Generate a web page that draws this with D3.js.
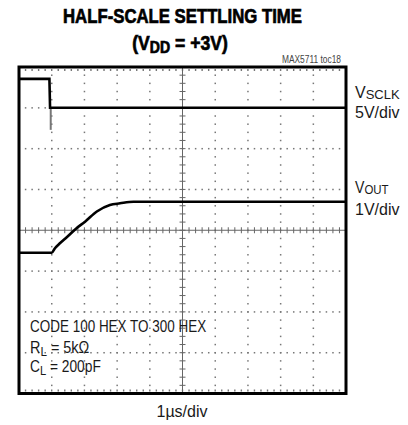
<!DOCTYPE html>
<html>
<head>
<meta charset="utf-8">
<script src="https://cdn.jsdelivr.net/npm/d3@7"></script>
<style>
  body { margin: 0; background: #fff; }
  svg { display: block; }
  text { font-family: "Liberation Sans", Arial, sans-serif; fill: #1a1a1a; }
</style>
</head>
<body>
<svg width="408" height="425"></svg>
<script>
// scope traces, time in us, level in divisions from screen centre
const sclkTime  = [0, 0.93, 0.95, 10];
const sclkLevel = [3.71, 3.71, 3.0, 3.0];
const glitchTime  = [0.97, 0.97];
const glitchLevel = [3.0, 2.46];

const voutTime  = [0, 1.0, 1.10, 1.25, 1.46, 1.76, 2.02, 2.38, 2.78, 3.09, 3.50, 10];
const voutLevel = [-0.55, -0.55, -0.44, -0.32, -0.17, 0.05, 0.21, 0.46, 0.62, 0.66, 0.70, 0.70];

const xDivs = d3.range(0, 11);   // 10 horizontal divisions
const yDivs = d3.range(-4, 5);   // 8 vertical divisions

let svg = d3.select('svg');
let x = d3.scaleLinear().domain([0, 10]).range([19, 346]);
let y = d3.scaleLinear().domain([-4, 4]).range([393.5, 67]);

let grid = svg.append('g').attr('fill', '#777');
let minor = d3.range(-4, 4.001, 0.2);
let minorX = d3.range(0, 10.001, 0.2);

// dotted vertical grid lines
xDivs.filter(d => d > 0 && d < 10 && d !== 5).forEach(d => {
  grid.selectAll(null).data(minor.slice(1, -1)).enter().append('rect')
    .attr('x', x(d) - 0.7).attr('y', v => y(v) - 0.7).attr('width', 1.5).attr('height', 1.5);
});
// dotted horizontal grid lines
yDivs.filter(d => d > -4 && d < 4 && d !== 0).forEach(d => {
  grid.selectAll(null).data(minorX.slice(1, -1)).enter().append('rect')
    .attr('x', v => x(v) - 0.7).attr('y', y(d) - 0.7).attr('width', 1.5).attr('height', 1.5);
});
// edge ticks
grid.selectAll(null).data(minorX.slice(1, -1)).enter().append('rect')
  .attr('x', v => x(v) - 0.7).attr('y', y(4) + 2).attr('width', 1.4).attr('height', 2);
grid.selectAll(null).data(minorX.slice(1, -1)).enter().append('rect')
  .attr('x', v => x(v) - 0.7).attr('y', y(-4) - 4).attr('width', 1.4).attr('height', 2);

// centre cross with minor ticks
let cross = svg.append('g').attr('stroke', '#666').attr('stroke-width', 1);
cross.append('line').attr('x1', x(0)).attr('x2', x(10)).attr('y1', y(0)).attr('y2', y(0));
cross.append('line').attr('x1', x(5)).attr('x2', x(5)).attr('y1', y(-4)).attr('y2', y(4));
cross.selectAll(null).data(minorX.slice(1, -1)).enter().append('line')
  .attr('x1', v => x(v)).attr('x2', v => x(v)).attr('y1', y(0) - 3).attr('y2', y(0) + 3);
cross.selectAll(null).data(minor.slice(1, -1)).enter().append('line')
  .attr('y1', v => y(v)).attr('y2', v => y(v)).attr('x1', x(5) - 3).attr('x2', x(5) + 3);

// traces
let line = d3.line().x(d => x(d[0])).y(d => y(d[1]));
svg.append('path')
  .datum(d3.zip(glitchTime, glitchLevel))
  .attr('d', line).attr('fill', 'none').attr('stroke', '#777').attr('stroke-width', 2);
svg.append('path')
  .datum(d3.zip(sclkTime, sclkLevel))
  .attr('d', line).attr('fill', 'none').attr('stroke', '#000').attr('stroke-width', 2.6);
svg.append('path')
  .datum(d3.zip(voutTime, voutLevel))
  .attr('d', line.curve(d3.curveMonotoneX)).attr('fill', 'none').attr('stroke', '#000').attr('stroke-width', 2.6);

// frame
svg.append('rect').attr('x', x(0)).attr('y', y(4)).attr('width', x(10) - x(0)).attr('height', y(-4) - y(4))
  .attr('fill', 'none').attr('stroke', '#000').attr('stroke-width', 3);

// condensed-looking text: horizontally squeezed Liberation Sans
// parts: [text, fontSize, dy]
function label(xp, yp, parts, sx, anchor, bold) {
  let g = svg.append('g').attr('transform', `translate(${xp},${yp}) scale(${sx},1)`);
  let t = g.append('text').attr('text-anchor', anchor || 'start')
    .attr('font-weight', bold ? 'bold' : null);
  if (bold) t.style('fill', '#000').attr('stroke', '#000').attr('stroke-width', 0.7);
  parts.forEach(p => t.append('tspan').attr('font-size', p[1]).attr('dy', p[2] || 0).text(p[0]));
  return t;
}

label(182.5, 23, [['HALF-SCALE SETTLING TIME', 20]], 0.837, 'middle', true);
label(180, 50, [['(V', 20], ['DD', 16, 3], [' = +3V)', 20, -3]], 0.88, 'middle', true);
label(341, 63, [['MAX5711 toc18', 10.5]], 0.8, 'end').style('fill', '#444');

label(355, 98, [['V', 16], ['SCLK', 13, 1]], 1.0);
label(355, 118, [['5V/div', 16]], 1.0);
label(355, 193, [['V', 16], ['OUT', 13, 1]], 0.88);
label(355, 215, [['1V/div', 16]], 1.0);

label(30, 332, [['CODE 100 HEX TO 300 HEX', 16]], 0.843);
label(30, 353, [['R', 16], ['L', 13, 3], [' = 5k\u03A9', 16, -3]], 0.9);
label(30, 372, [['C', 16], ['L', 13, 3], [' = 200pF', 16, -3]], 0.86);

label(182, 417, [['1\u00B5s/div', 16]], 1.0, 'middle');
</script>
</body>
</html>
